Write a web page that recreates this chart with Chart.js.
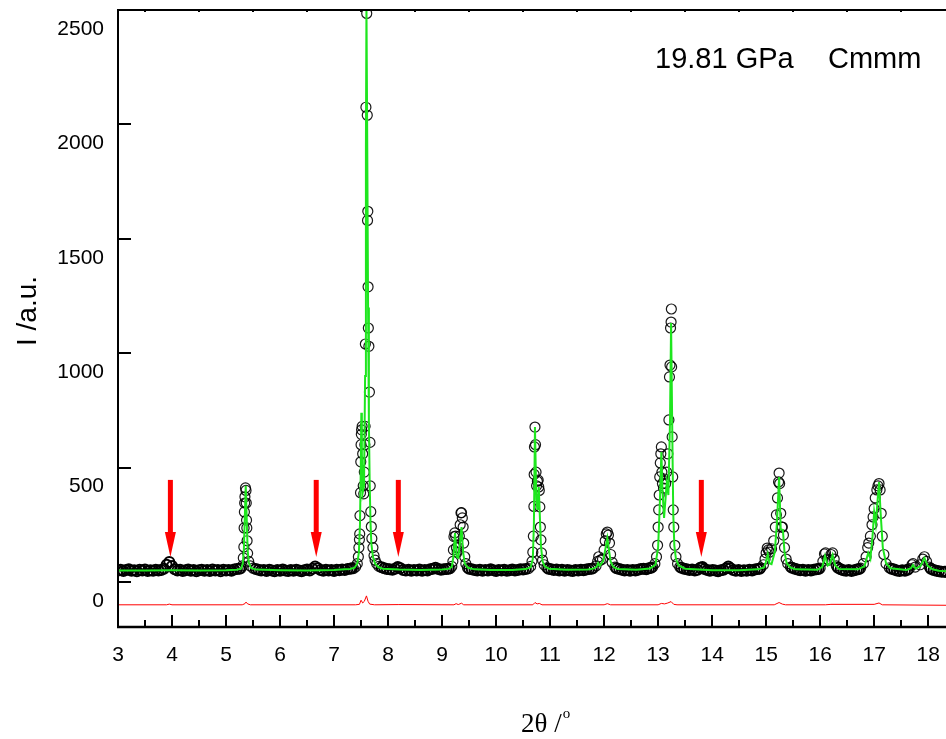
<!DOCTYPE html>
<html>
<head>
<meta charset="utf-8">
<script src="https://cdn.jsdelivr.net/npm/chart.js@4.4.1/dist/chart.umd.min.js"></script>
<style>
  html, body { margin: 0; padding: 0; background: #fff; }
  #wrap { width: 946px; height: 739px; }
</style>
</head>
<body>
<div id="wrap"><canvas id="xrd" width="946" height="739"></canvas></div>
<script>
// observed pattern, flat parts ([2theta, intensity])
const obsBackground = [
  [3.00,50],[3.05,53],[3.10,48],[3.15,52],[3.20,55],[3.25,49],[3.30,51],[3.35,47],[3.40,53],[3.45,50],
  [3.50,54],[3.55,48],[3.60,51],[3.65,49],[3.70,53],[3.75,50],[3.80,52],[3.85,58],[3.90,75],[3.95,87],
  [4.00,70],[4.05,55],[4.10,50],[4.15,53],[4.20,48],[4.25,51],[4.30,54],[4.35,49],[4.40,52],[4.45,47],
  [4.50,51],[4.55,53],[4.60,49],[4.65,52],[4.70,48],[4.75,54],[4.80,50],[4.85,52],[4.90,47],[4.95,53],
  [5.00,50],[5.05,52],[5.10,49],[5.15,54],[5.20,56],[5.25,58],
  [5.55,56],[5.60,53],[5.65,50],[5.70,52],[5.75,48],[5.80,53],[5.85,50],[5.90,47],[5.95,52],[6.00,49],
  [6.05,54],[6.10,50],[6.15,48],[6.20,52],[6.25,49],[6.30,53],[6.35,50],[6.40,47],[6.45,51],[6.50,54],
  [6.55,50],[6.60,58],[6.65,68],[6.70,60],[6.75,52],[6.80,49],[6.85,53],[6.90,50],[6.95,52],[7.00,48],
  [7.05,53],[7.10,51],[7.15,54],[7.20,52],[7.25,56],[7.30,58],[7.33,60],
  [7.88,64],[7.93,60],[7.98,57],[8.03,55],[8.08,53],[8.13,58],[8.18,65],[8.23,60],[8.28,52],[8.33,50],
  [8.38,53],[8.43,49],[8.48,52],[8.53,50],[8.58,54],[8.63,49],[8.68,52],[8.73,50],[8.78,55],[8.83,58],
  [8.88,62],[8.93,56],[8.98,53],[9.03,55],[9.08,57],[9.12,58],
  [9.50,58],[9.55,55],[9.60,52],[9.65,50],[9.70,53],[9.75,49],[9.80,52],[9.85,50],[9.90,55],[9.95,51],
  [10.00,48],[10.05,52],[10.10,50],[10.15,53],[10.20,49],[10.25,51],[10.30,54],[10.35,50],[10.40,52],
  [10.45,55],[10.50,54],[10.55,57],
  [10.97,58],[11.02,55],[11.07,52],[11.12,54],[11.17,50],[11.22,53],[11.27,49],[11.32,52],[11.37,50],
  [11.42,48],[11.47,52],[11.52,50],[11.57,53],[11.62,51],[11.67,54],[11.72,56],[11.77,58],
  [12.23,60],[12.28,56],[12.33,53],[12.38,50],[12.43,52],[12.48,49],[12.53,52],[12.58,50],[12.63,53],
  [12.68,56],[12.73,58],[12.78,55],[12.83,60],[12.87,62],
  [13.43,62],[13.48,58],[13.53,55],[13.58,52],[13.63,54],[13.68,50],[13.73,53],[13.78,62],[13.82,65],
  [13.86,56],[13.91,52],[13.96,49],[14.01,52],[14.06,50],[14.11,47],[14.16,51],[14.21,53],[14.26,60],
  [14.30,68],[14.34,60],[14.39,52],[14.44,49],[14.49,52],[14.54,48],[14.59,51],[14.64,49],[14.69,53],
  [14.74,50],[14.79,54],[14.84,57],[14.88,58],
  [15.48,62],[15.53,58],[15.58,54],[15.63,51],[15.68,53],[15.73,49],[15.78,52],[15.83,50],[15.88,53],
  [15.93,55],[15.97,57],
  [16.33,62],[16.38,55],[16.43,51],[16.48,49],[16.53,52],[16.58,48],[16.63,51],[16.68,54],[16.72,56],
  [17.32,58],[17.37,54],[17.42,50],[17.47,48],[17.52,51],[17.57,49],[17.62,53],
  [18.05,58],[18.10,52],[18.15,49],[18.20,47],[18.25,45],[18.30,44],[18.33,44]
];

// observed pattern, reflections
const obsPeaks = [
  [5.28,60],[5.30,70],[5.32,105],[5.33,153],[5.335,236],[5.34,306],[5.345,345],[5.35,372],[5.36,411],
  [5.37,400],[5.375,345],[5.38,270],[5.385,236],[5.39,180],[5.40,125],[5.42,90],[5.45,70],[5.50,60],
  [7.36,58],[7.40,66],[7.43,80],[7.45,110],[7.46,150],[7.47,185],[7.475,210],[7.48,290],[7.49,390],
  [7.495,525],[7.50,600],[7.505,645],[7.51,665],[7.52,680],[7.53,560],[7.54,420],[7.55,385],[7.56,480],
  [7.57,600],[7.575,680],[7.58,1040],[7.59,2075],[7.605,2485],[7.615,2040],[7.62,1580],[7.625,1620],
  [7.63,1290],[7.635,1110],[7.645,1030],[7.655,830],[7.665,610],[7.67,420],[7.68,307],[7.69,242],
  [7.70,190],[7.72,150],[7.74,115],[7.76,95],[7.79,80],[7.83,68],
  [9.15,58],[9.18,68],[9.20,90],[9.21,140],[9.22,198],[9.235,214],[9.25,200],[9.265,150],[9.28,130],
  [9.30,150],[9.32,200],[9.335,250],[9.35,302],[9.36,303],[9.375,280],[9.39,240],[9.40,170],[9.42,110],
  [9.44,80],[9.47,62],
  [10.60,58],[10.64,68],[10.665,90],[10.68,130],[10.69,200],[10.70,330],[10.705,470],[10.71,590],
  [10.72,677],[10.73,600],[10.74,480],[10.75,420],[10.765,440],[10.78,445],[10.79,415],[10.80,400],
  [10.81,328],[10.82,240],[10.83,184],[10.84,127],[10.86,95],[10.89,75],[10.94,62],
  [11.80,60],[11.85,70],[11.88,90],[11.90,110],[11.93,95],[11.97,100],[12.00,140],[12.02,180],
  [12.04,210],[12.06,218],[12.08,205],[12.10,170],[12.12,120],[12.15,85],[12.20,65],
  [12.90,65],[12.94,80],[12.97,110],[12.99,160],[13.00,240],[13.01,315],[13.02,380],[13.03,459],
  [13.04,520],[13.05,560],[13.06,590],[13.07,480],[13.08,430],[13.10,410],[13.12,450],[13.14,430],
  [13.16,480],[13.18,560],[13.20,708],[13.21,896],[13.22,948],[13.23,1110],[13.24,1136],[13.245,1193],
  [13.25,940],[13.26,634],[13.27,459],[13.28,315],[13.29,240],[13.31,160],[13.33,110],[13.36,80],[13.40,65],
  [14.90,62],[14.95,75],[14.98,100],[15.00,127],[15.02,148],[15.04,140],[15.06,130],[15.10,145],
  [15.14,180],[15.17,240],[15.19,293],[15.21,367],[15.23,437],[15.24,476],[15.25,430],[15.27,300],
  [15.29,240],[15.30,240],[15.32,205],[15.34,150],[15.37,100],[15.40,80],[15.45,65],
  [16.00,60],[16.05,90],[16.08,122],[16.10,127],[16.13,100],[16.16,95],[16.20,120],[16.23,127],
  [16.26,100],[16.30,70],
  [16.75,60],[16.80,80],[16.85,110],[16.88,150],[16.90,170],[16.93,200],[16.96,250],[16.98,284],
  [17.00,320],[17.02,367],[17.05,402],[17.07,420],[17.09,430],[17.11,402],[17.13,300],[17.15,200],
  [17.18,120],[17.22,80],[17.28,62],
  [17.65,58],[17.70,75],[17.72,80],[17.76,65],[17.85,75],[17.90,100],[17.93,110],[17.97,90],[18.02,65]
];

// calculated profile (green)
const calcProfile = [
  [3.00,50],[3.50,50],[4.00,51],[4.50,50],[5.00,51],[5.20,53],[5.28,58],[5.31,80],[5.33,140],[5.35,300],
  [5.365,420],[5.38,300],[5.40,140],[5.42,85],[5.46,62],[5.55,54],
  [6.00,51],[6.50,50],[7.00,52],[7.20,55],[7.30,57],[7.38,62],[7.43,80],[7.46,130],[7.48,250],
  [7.495,500],[7.505,740],[7.515,560],[7.53,390],[7.555,420],[7.575,900],[7.59,1900],[7.60,2520],
  [7.615,1900],[7.63,1200],[7.645,700],[7.66,430],[7.675,260],[7.69,170],[7.72,110],[7.76,80],
  [7.82,65],[7.90,58],
  [8.20,54],[8.60,52],[9.00,54],[9.12,57],[9.18,66],[9.21,110],[9.24,214],[9.27,110],[9.30,105],
  [9.33,170],[9.36,240],[9.39,130],[9.42,80],[9.48,62],[9.60,55],
  [9.90,52],[10.30,52],[10.55,56],[10.64,64],[10.68,100],[10.70,250],[10.72,677],[10.745,360],
  [10.765,315],[10.79,415],[10.81,290],[10.83,160],[10.86,90],[10.90,68],[10.98,58],
  [11.30,53],[11.70,54],[11.80,58],[11.86,66],[11.89,83],[11.92,70],[11.98,90],[12.02,140],[12.06,192],
  [12.09,140],[12.12,90],[12.17,66],[12.25,57],
  [12.60,53],[12.85,59],[12.95,75],[13.00,150],[13.03,330],[13.06,568],[13.08,400],[13.11,280],
  [13.16,433],[13.19,380],[13.22,700],[13.24,1132],[13.26,700],[13.28,300],[13.30,160],[13.33,100],
  [13.38,72],[13.50,58],
  [14.00,51],[14.50,51],[14.85,55],[14.96,63],[15.00,90],[15.03,122],[15.06,82],[15.10,78],[15.16,130],
  [15.20,260],[15.24,459],[15.27,230],[15.31,227],[15.34,130],[15.38,82],[15.45,63],[15.55,55],
  [15.95,53],[16.04,66],[16.09,114],[16.14,72],[16.18,80],[16.23,118],[16.28,72],[16.35,57],
  [16.70,55],[16.82,68],[16.89,127],[16.93,102],[16.97,200],[17.00,306],[17.03,255],[17.09,437],
  [17.12,300],[17.16,150],[17.22,82],[17.30,60],
  [17.60,52],[17.68,60],[17.72,74],[17.77,58],[17.86,70],[17.93,105],[17.99,70],[18.08,55],
  [18.20,49],[18.35,46]
];

// difference curve (red), plotted with offset
const diffCurve = [
  [3.00,-100],[3.90,-100],[3.95,-97],[4.00,-100],[5.30,-100],[5.35,-95],[5.37,-88],[5.40,-96],
  [5.45,-100],[7.40,-100],[7.47,-98],[7.50,-80],[7.53,-92],[7.56,-85],[7.60,-61],[7.63,-85],
  [7.66,-97],[7.75,-100],[8.20,-99],[9.22,-100],[9.26,-95],[9.30,-99],[9.36,-93],[9.40,-100],
  [10.68,-100],[10.72,-90],[10.76,-96],[10.80,-94],[10.85,-100],[12.00,-100],[12.06,-95],
  [12.12,-100],[13.00,-100],[13.06,-94],[13.12,-96],[13.18,-92],[13.24,-86],[13.29,-98],
  [13.35,-100],[15.15,-100],[15.24,-90],[15.30,-97],[15.36,-100],[16.10,-100],[16.20,-98],
  [17.00,-98],[17.09,-92],[17.15,-100],[18.33,-102]
];

const xMajorTicks = [3, 4, 5, 6, 7, 8, 9, 10, 11, 12, 13, 14, 15, 16, 17, 18];
const xMinorTicks = [3.5, 4.5, 5.5, 6.5, 7.5, 8.5, 9.5, 10.5, 11.5, 12.5, 13.5, 14.5, 15.5, 16.5, 17.5];
const yTicks = [0, 500, 1000, 1500, 2000, 2500];

// red markers for unindexed reflections
const arrowAt = [3.97, 6.67, 8.19, 13.80];
const arrowTop = 446;
const arrowTip = 109;

const label1 = '19.81 GPa';
const label2 = 'Cmmm';

const toXY = p => ({ x: p[0], y: p[1] });

const decorations = {
  id: 'decorations',
  afterDatasetsDraw(chart) {
    const { ctx, chartArea: a, scales: { x, y } } = chart;
    ctx.save();

    // red arrows
    ctx.fillStyle = '#ff0000';
    arrowAt.forEach(v => {
      const px = x.getPixelForValue(v);
      const top = y.getPixelForValue(arrowTop);
      const tip = y.getPixelForValue(arrowTip);
      ctx.fillRect(px - 2.5, top, 5, tip - top - 22);
      ctx.beginPath();
      ctx.moveTo(px - 5.5, tip - 25);
      ctx.lineTo(px + 5.5, tip - 25);
      ctx.lineTo(px, tip);
      ctx.closePath();
      ctx.fill();
    });

    // frame and inward ticks
    ctx.strokeStyle = '#000';
    ctx.lineWidth = 2;
    ctx.beginPath();
    xMajorTicks.forEach(v => {
      const px = Math.round(x.getPixelForValue(v));
      ctx.moveTo(px, a.bottom); ctx.lineTo(px, a.bottom - 12);
    });
    xMinorTicks.forEach(v => {
      const px = Math.round(x.getPixelForValue(v));
      ctx.moveTo(px, a.bottom); ctx.lineTo(px, a.bottom - 7);
      ctx.moveTo(px, a.top); ctx.lineTo(px, a.top + 2);
    });
    yTicks.forEach(v => {
      const py = Math.round(y.getPixelForValue(v));
      ctx.moveTo(a.left, py); ctx.lineTo(a.left + 13, py);
    });
    ctx.stroke();

    ctx.beginPath();
    ctx.moveTo(a.left, a.top); ctx.lineTo(a.right, a.top);
    ctx.moveTo(a.left, a.top - 1); ctx.lineTo(a.left, a.bottom + 1);
    ctx.stroke();
    ctx.lineWidth = 2.5;
    ctx.beginPath();
    ctx.moveTo(a.left - 1, a.bottom); ctx.lineTo(a.right, a.bottom);
    ctx.stroke();

    // annotation
    ctx.fillStyle = '#000';
    ctx.font = '29px "Liberation Sans", Arial, sans-serif';
    ctx.textBaseline = 'middle';
    ctx.textAlign = 'left';
    ctx.fillText(label1, 655, 60);
    ctx.fillText(label2, 828, 60);

    // axis titles
    ctx.font = '27px "Liberation Serif", "Times New Roman", serif';
    ctx.textBaseline = 'alphabetic';
    ctx.fillText('2\u03b8 /', 521, 732);
    const w = ctx.measureText('2\u03b8 /').width;
    ctx.font = '15px "Liberation Serif", "Times New Roman", serif';
    ctx.fillText('o', 521 + w + 1, 718);

    ctx.translate(28, 311);
    ctx.rotate(-Math.PI / 2);
    ctx.font = '28px "Liberation Sans", Arial, sans-serif';
    ctx.textAlign = 'center';
    ctx.textBaseline = 'middle';
    ctx.fillText('I /a.u.', 0, 0);
    ctx.restore();
  }
};

new Chart(document.getElementById('xrd'), {
  type: 'scatter',
  data: {
    datasets: [
      {
        label: 'calc',
        data: calcProfile.map(toXY),
        showLine: true,
        borderColor: '#1ee61e',
        borderWidth: 2,
        pointRadius: 0,
        tension: 0,
        order: 0
      },
      {
        label: 'obs peaks',
        data: obsPeaks.map(toXY),
        showLine: false,
        pointStyle: 'circle',
        pointRadius: 5,
        borderColor: 'rgba(0,0,0,0.9)',
        backgroundColor: 'rgba(0,0,0,0)',
        borderWidth: 1.2,
        order: 1
      },
      {
        label: 'obs background',
        data: obsBackground.map(toXY),
        showLine: false,
        pointStyle: 'circle',
        pointRadius: 5,
        borderColor: '#000',
        backgroundColor: 'rgba(0,0,0,0)',
        borderWidth: 2,
        order: 2
      },
      {
        label: 'diff',
        data: diffCurve.map(toXY),
        showLine: true,
        borderColor: '#ff0000',
        borderWidth: 1,
        pointRadius: 0,
        tension: 0,
        order: 3
      }
    ]
  },
  options: {
    responsive: false,
    animation: false,
    layout: { autoPadding: false, padding: { top: 10, right: 0, left: 0, bottom: 0 } },
    plugins: { legend: { display: false }, tooltip: { enabled: false } },
    scales: {
      x: {
        type: 'linear',
        min: 3,
        max: 18.33,
        grid: { display: false, drawTicks: false },
        border: { display: false },
        afterBuildTicks: s => { s.ticks = xMajorTicks.map(v => ({ value: v })); },
        afterFit: s => { s.height = 112; s.paddingLeft = 0; s.paddingRight = 0; },
        ticks: {
          color: '#000',
          padding: 16,
          maxRotation: 0,
          autoSkip: false,
          font: { family: '"Liberation Sans", Arial, sans-serif', size: 21 },
          callback: v => String(v)
        }
      },
      y: {
        type: 'linear',
        min: -197,
        max: 2500,
        grid: { display: false, drawTicks: false },
        border: { display: false },
        afterBuildTicks: s => { s.ticks = yTicks.map(v => ({ value: v })); },
        afterFit: s => { s.width = 118; s.paddingTop = 0; s.paddingBottom = 0; },
        ticks: {
          color: '#000',
          padding: 14,
          labelOffset: 19,
          autoSkip: false,
          font: { family: '"Liberation Sans", Arial, sans-serif', size: 21 },
          callback: v => String(v)
        }
      }
    }
  },
  plugins: [decorations]
});
</script>
</body>
</html>
